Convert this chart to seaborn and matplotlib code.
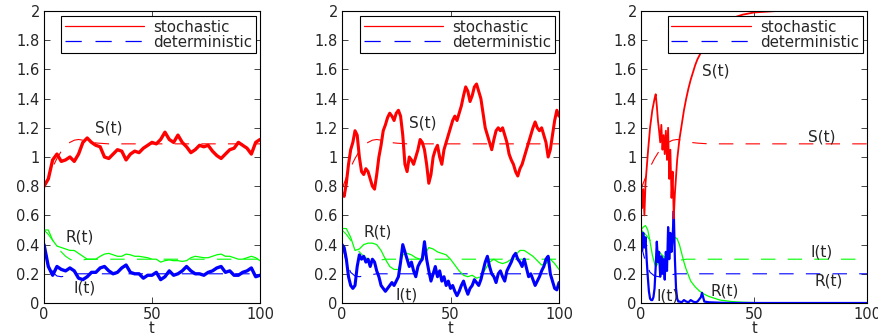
import numpy as np
import matplotlib
matplotlib.use("Agg")
import matplotlib.pyplot as plt
import seaborn as sns
from matplotlib.lines import Line2D

# --- time grids ---
t_step2 = np.arange(0, 101, 2)
t_step1 = np.arange(0, 101, 1)

# --- deterministic solution (same in every panel) ---
t_det = [0, 2, 4, 6, 8, 10, 12, 14, 16, 18, 20, 22, 25, 30, 40, 100]
S_det = [0.78, 0.86, 0.93, 0.99, 1.04, 1.08, 1.10, 1.115, 1.12, 1.115, 1.11, 1.10, 1.095, 1.09, 1.09, 1.09]
R_det = [0.50, 0.47, 0.43, 0.39, 0.35, 0.32, 0.30, 0.29, 0.29, 0.295, 0.30, 0.30, 0.30, 0.30, 0.30, 0.30]
I_det = [0.40, 0.28, 0.21, 0.185, 0.18, 0.185, 0.19, 0.195, 0.20, 0.20, 0.20, 0.20, 0.20, 0.20, 0.20, 0.20]

# --- panel 1 (sampled every 2 time units) ---
p1_S = [0.80, 0.85, 0.98, 1.02, 0.97, 0.98, 1.00, 0.97, 1.02, 1.10, 1.13, 1.10, 1.08, 1.07, 1.00, 0.99, 1.02,
        1.05, 1.04, 0.98, 1.02, 1.04, 1.03, 1.06, 1.08, 1.10, 1.09, 1.12, 1.17, 1.12, 1.10, 1.15, 1.10, 1.07,
        1.03, 1.05, 1.08, 1.07, 1.08, 1.04, 1.01, 0.99, 1.02, 1.05, 1.06, 1.10, 1.08, 1.06, 1.02, 1.10, 1.12]
p1_R = [0.50, 0.50, 0.43, 0.39, 0.38, 0.37, 0.36, 0.36, 0.34, 0.32, 0.30, 0.30, 0.30, 0.32, 0.335, 0.34, 0.33,
        0.32, 0.32, 0.335, 0.33, 0.32, 0.32, 0.315, 0.31, 0.30, 0.30, 0.28, 0.29, 0.295, 0.29, 0.29, 0.285, 0.29,
        0.31, 0.32, 0.315, 0.31, 0.31, 0.32, 0.33, 0.335, 0.32, 0.32, 0.31, 0.30, 0.30, 0.31, 0.32, 0.31, 0.29]
p1_I = [0.40, 0.25, 0.19, 0.25, 0.23, 0.22, 0.24, 0.22, 0.17, 0.16, 0.18, 0.21, 0.21, 0.24, 0.25, 0.22, 0.20,
        0.21, 0.24, 0.26, 0.21, 0.20, 0.20, 0.17, 0.19, 0.19, 0.21, 0.16, 0.18, 0.22, 0.19, 0.20, 0.22, 0.25,
        0.22, 0.20, 0.20, 0.19, 0.21, 0.22, 0.24, 0.25, 0.21, 0.22, 0.19, 0.19, 0.21, 0.22, 0.24, 0.18, 0.19]

# --- panel 2 (S and I every time unit, R every 2) ---
p2_S = [0.75, 0.73, 0.82, 0.95, 1.05, 1.10, 1.18, 1.15, 1.00, 0.90,
        0.88, 0.92, 0.90, 0.85, 0.80, 0.78, 0.88, 1.00, 1.08, 1.18,
        1.22, 1.27, 1.30, 1.28, 1.25, 1.30, 1.32, 1.28, 1.15, 0.95,
        0.90, 1.00, 0.98, 0.95, 1.00, 1.05, 1.12, 1.10, 1.05, 0.95,
        0.82, 0.88, 1.00, 1.05, 1.08, 1.00, 0.95, 1.05, 1.10, 1.15,
        1.20, 1.25, 1.28, 1.25, 1.30, 1.35, 1.42, 1.48, 1.45, 1.38,
        1.42, 1.48, 1.50, 1.45, 1.40, 1.30, 1.20, 1.15, 1.10, 1.05,
        1.12, 1.18, 1.20, 1.18, 1.20, 1.15, 1.10, 1.02, 0.98, 0.95,
        0.90, 0.87, 0.92, 0.95, 1.00, 1.05, 1.10, 1.15, 1.20, 1.24,
        1.20, 1.18, 1.20, 1.15, 1.10, 1.00, 1.05, 1.15, 1.25, 1.32,
        1.28]
p2_R = [0.51, 0.51, 0.45, 0.36, 0.37, 0.40, 0.41, 0.41, 0.40, 0.36, 0.30, 0.25, 0.23, 0.23, 0.33, 0.34, 0.33,
        0.31, 0.30, 0.33, 0.38, 0.37, 0.35, 0.34, 0.33, 0.30, 0.26, 0.22, 0.19, 0.18, 0.19, 0.17, 0.18, 0.23,
        0.28, 0.30, 0.28, 0.27, 0.28, 0.30, 0.33, 0.36, 0.36, 0.34, 0.32, 0.29, 0.26, 0.27, 0.30, 0.27, 0.23]
p2_I = [0.40, 0.38, 0.30, 0.18, 0.12, 0.10, 0.12, 0.25, 0.33, 0.30,
        0.32, 0.28, 0.30, 0.25, 0.30, 0.28, 0.22, 0.18, 0.12, 0.10,
        0.08, 0.10, 0.12, 0.14, 0.12, 0.15, 0.18, 0.28, 0.40, 0.35,
        0.30, 0.25, 0.28, 0.22, 0.18, 0.25, 0.28, 0.30, 0.42, 0.30,
        0.22, 0.15, 0.20, 0.25, 0.18, 0.22, 0.15, 0.18, 0.12, 0.15,
        0.10, 0.12, 0.08, 0.05, 0.08, 0.12, 0.15, 0.10, 0.06, 0.10,
        0.12, 0.16, 0.14, 0.12, 0.16, 0.22, 0.28, 0.32, 0.25, 0.20,
        0.18, 0.14, 0.20, 0.22, 0.18, 0.15, 0.22, 0.25, 0.28, 0.32,
        0.34, 0.30, 0.28, 0.25, 0.30, 0.24, 0.18, 0.20, 0.16, 0.12,
        0.15, 0.18, 0.22, 0.25, 0.30, 0.32, 0.20, 0.15, 0.10, 0.09,
        0.14]

# --- panel 3 (extinction run, irregular sampling) ---
p3_tS = [0, 0.5, 1, 1.5, 2, 3, 4, 5, 6, 6.5, 7, 7.5, 8, 8.5, 9, 9.5, 10, 10.5, 11, 11.5, 12, 12.5, 13, 13.5,
         14, 14.5, 15, 16, 17, 18, 19, 20, 21, 22, 23, 24, 25, 26, 27, 28, 30, 32, 34, 36, 38, 40, 45, 50, 60, 100]
p3_S = [0.85, 0.65, 0.78, 0.60, 0.82, 1.02, 1.20, 1.32, 1.40, 1.43, 1.35, 1.25, 1.18, 1.10, 1.22, 1.05, 1.15,
        1.02, 1.18, 0.98, 1.20, 0.85, 1.05, 0.72, 0.90, 0.58, 0.75, 0.98, 1.12, 1.22, 1.32, 1.40, 1.47, 1.53,
        1.58, 1.63, 1.67, 1.70, 1.73, 1.76, 1.80, 1.84, 1.88, 1.91, 1.93, 1.95, 1.975, 1.99, 2.0, 2.0]
p3_tR = [0, 1, 2, 3, 4, 5, 6, 6.5, 7, 8, 9, 10, 11, 12, 13, 14, 15, 16, 17, 18, 19, 20, 22, 24, 26, 28, 30,
         32, 35, 40, 45, 50, 60, 100]
p3_R = [0.50, 0.52, 0.53, 0.50, 0.42, 0.33, 0.27, 0.25, 0.26, 0.28, 0.30, 0.31, 0.32, 0.33, 0.36, 0.42, 0.45,
        0.44, 0.40, 0.34, 0.28, 0.23, 0.15, 0.11, 0.08, 0.06, 0.045, 0.035, 0.02, 0.01, 0.005, 0.003, 0.001, 0.0]
p3_tI = [0, 0.5, 1, 1.5, 2, 2.5, 3, 3.5, 4, 4.5, 5, 5.5, 6, 6.5, 7, 7.5, 8, 8.5, 9, 9.5, 10, 10.5, 11, 11.5,
         12, 12.5, 13, 13.5, 14, 14.5, 15, 15.5, 16, 16.5, 17, 18, 19, 20, 21, 22, 23, 24, 25, 26, 26.5, 27,
         28, 30, 35, 40, 100]
p3_I = [0.50, 0.36, 0.48, 0.38, 0.45, 0.30, 0.18, 0.08, 0.03, 0.02, 0.02, 0.04, 0.10, 0.25, 0.42, 0.28, 0.35,
        0.18, 0.32, 0.20, 0.30, 0.16, 0.35, 0.22, 0.52, 0.30, 0.48, 0.35, 0.45, 0.63, 0.30, 0.10, 0.03, 0.01,
        0.01, 0.005, 0.02, 0.01, 0.005, 0.02, 0.01, 0.005, 0.01, 0.03, 0.04, 0.07, 0.01, 0.005, 0.002, 0.0, 0.0]

y_ticks = [0, 0.2, 0.4, 0.6, 0.8, 1.0, 1.2, 1.4, 1.6, 1.8, 2.0]
y_tick_labels = ['0', '0.2', '0.4', '0.6', '0.8', '1', '1.2', '1.4', '1.6', '1.8', '2']
x_ticks = [0, 50, 100]

RED, GREEN, BLUE = '#ff0000', '#00ff00', '#0000ff'
DASH = (0, (13, 11))

sns.set_style("ticks")
plt.rcParams['font.family'] = ['DejaVu Sans']

fig = plt.figure(figsize=(8.79, 3.35), dpi=100)
boxes = [[44 / 879, 32 / 335, 216 / 879, 292 / 335],
         [342 / 879, 32 / 335, 217 / 879, 292 / 335],
         [641 / 879, 32 / 335, 226 / 879, 292 / 335]]

panels = [
    dict(S=(t_step2, p1_S), R=(t_step2, p1_R), I=(t_step2, p1_I), lw_S=2.4, lw_I=2.4,
         labels=[("S(t)", 30, 1.2), ("R(t)", 16.5, 0.45), ("I(t)", 19, 0.10)]),
    dict(S=(t_step1, p2_S), R=(t_step2, p2_R), I=(t_step1, p2_I), lw_S=2.2, lw_I=2.2,
         labels=[("S(t)", 37, 1.23), ("R(t)", 16.5, 0.485), ("I(t)", 30, 0.057)]),
    dict(S=(p3_tS, p3_S), R=(p3_tR, p3_R), I=(p3_tI, p3_I), lw_S=1.3, lw_I=1.6,
         labels=[("S(t)", 33, 1.59), ("S(t)", 80, 1.14), ("I(t)", 80, 0.35), ("R(t)", 83, 0.148),
                 ("I(t)", 12, 0.05), ("R(t)", 37, 0.08)]),
]

for box, p in zip(boxes, panels):
    ax = fig.add_axes(box)
    # deterministic curves (thin dashed)
    sns.lineplot(x=t_det, y=R_det, ax=ax, color=GREEN, linewidth=0.8, linestyle=DASH, estimator=None, sort=False)
    sns.lineplot(x=t_det, y=I_det, ax=ax, color=BLUE, linewidth=0.8, linestyle=DASH, estimator=None, sort=False)
    sns.lineplot(x=t_det, y=S_det, ax=ax, color=RED, linewidth=0.8, linestyle=DASH, estimator=None, sort=False)
    # stochastic paths
    sns.lineplot(x=p['R'][0], y=p['R'][1], ax=ax, color=GREEN, linewidth=0.9, estimator=None, sort=False)
    sns.lineplot(x=p['I'][0], y=p['I'][1], ax=ax, color=BLUE, linewidth=p['lw_I'], estimator=None, sort=False)
    sns.lineplot(x=p['S'][0], y=p['S'][1], ax=ax, color=RED, linewidth=p['lw_S'], estimator=None, sort=False)

    for txt, tx, ty in p['labels']:
        ax.text(tx, ty, txt, fontsize=11, ha='center', va='center')

    ax.set_xlim(0, 100)
    ax.set_ylim(0, 2)
    ax.set_xticks(x_ticks)
    ax.set_yticks(y_ticks)
    ax.set_yticklabels(y_tick_labels)
    ax.set_xlabel('t', fontsize=10.5, labelpad=-1)
    ax.set_ylabel('')
    ax.tick_params(direction='in', top=True, right=True, length=4, width=0.6, labelsize=10.5, pad=3)
    for s in ax.spines.values():
        s.set_visible(True)
        s.set_linewidth(0.8)
        s.set_color('black')

    handles = [Line2D([], [], color=RED, linewidth=0.9),
               Line2D([], [], color=BLUE, linewidth=0.9, linestyle=DASH)]
    leg = ax.legend(handles, ['stochastic', 'deterministic'], loc='upper right',
                    bbox_to_anchor=(0.981, 0.983), borderaxespad=0, fontsize=10.8,
                    handlelength=5.3, handletextpad=0.6, labelspacing=0.0,
                    borderpad=0.25, fancybox=False, framealpha=1, edgecolor='black')
    leg.get_frame().set_linewidth(0.8)

fig.savefig('out.png', dpi=100)
